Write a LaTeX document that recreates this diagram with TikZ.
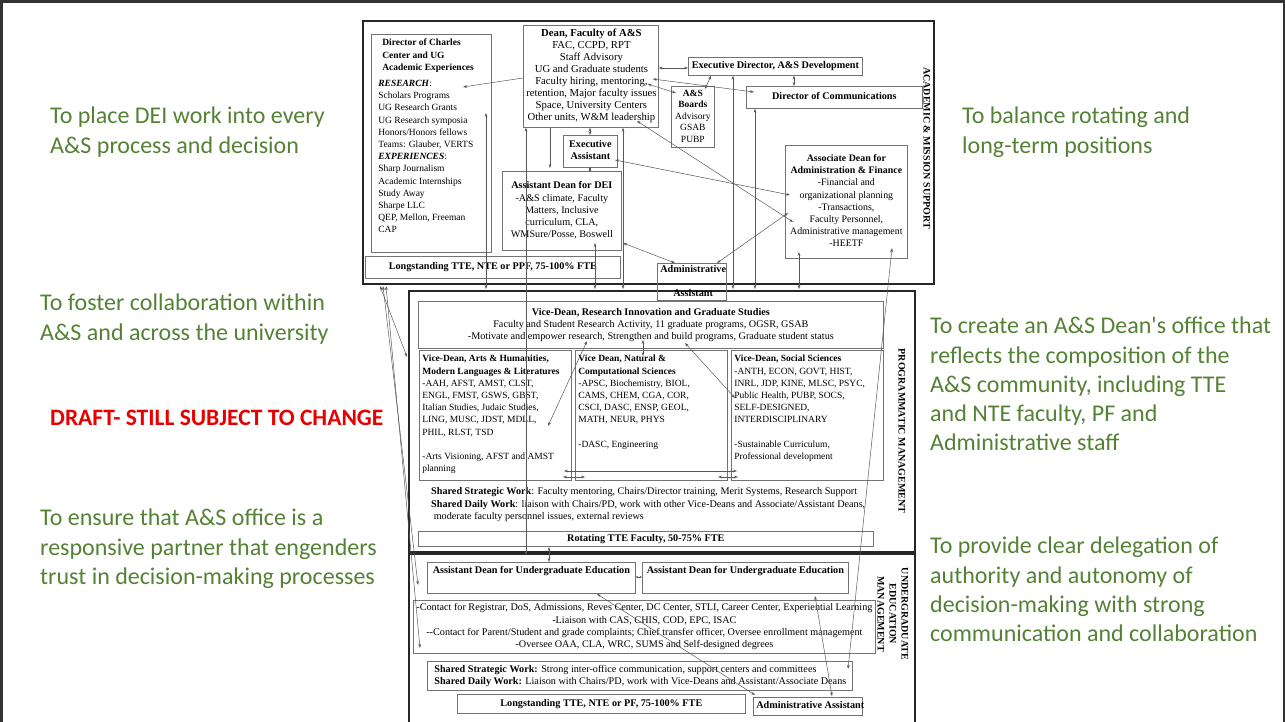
\documentclass[tikz,border=0pt]{standalone}
\usepackage{fontspec}
\setmainfont{Liberation Serif}
\newfontfamily\greenfont{Carlito}
\usetikzlibrary{arrows.meta,calc}
\definecolor{grn}{RGB}{84,130,53}
\definecolor{drft}{RGB}{230,0,0}
\newcommand{\cbox}[4]{\begin{minipage}[c][#2pt][#3]{#1pt}\centering\begin{tabular}{@{}c@{}}#4\end{tabular}\end{minipage}}
\newcommand{\lbox}[4]{\begin{minipage}[c][#2pt][#3]{#1pt}\raggedright\begin{tabular}{@{}l@{}}#4\end{tabular}\end{minipage}}
\tikzset{
  box/.style={draw=black!55, line width=0.7pt, inner sep=3pt, anchor=north west, font=\fontsize{10.2}{12.2}\selectfont},
  smallbox/.style={box, font=\fontsize{9.5}{12.2}\selectfont},
  frame/.style={draw=black!85, line width=2pt, inner sep=0pt, anchor=north west},
  plain/.style={inner sep=0pt, anchor=north west, font=\fontsize{10.2}{12.4}\selectfont},
  conn/.style={draw=black!65, line width=0.5pt},
  both/.style={conn, {Stealth[length=4pt,width=2.8pt]}-{Stealth[length=4pt,width=2.8pt]}},
  one/.style={conn, -{Stealth[length=4pt,width=2.8pt]}},
  tiny/.style={conn, {Stealth[length=2.5pt,width=2.4pt]}-{Stealth[length=2.5pt,width=2.4pt]}},
  goal/.style={text=grn, font=\greenfont\fontsize{24}{29.2}\selectfont, anchor=north west, align=left, inner sep=0pt},
  side/.style={font=\bfseries\fontsize{10}{12}\selectfont, rotate=-90, align=center, inner sep=0pt},
}
\begin{document}
\begin{tikzpicture}[x=1pt,y=-1pt]
\useasboundingbox (0,0) rectangle (1285,721);
\draw[line width=3pt, black!80] (1,725) -- (1,1) -- (1284,1) -- (1284,725);

% goals
\node[goal] (g1) at (50,107) {To place DEI work into every\\A\&S process and decision};
\node[goal] (g2) at (40,294) {To foster collaboration within\\A\&S and across the university};
\node[goal, text=drft, font=\greenfont\bfseries\fontsize{23.5}{26}\selectfont] (draft) at (50,410) {DRAFT- STILL SUBJECT TO CHANGE};
\node[goal] (g3) at (40,509) {To ensure that A\&S office is a\\responsive partner that engenders\\trust in decision-making processes};
\node[goal] (r1) at (962,107) {To balance rotating and\\long-term positions};
\node[goal] (r2) at (930,317) {To create an A\&S Dean's office that\\reflects the composition of the\\A\&S community, including TTE\\and NTE faculty, PF and\\Administrative staff};
\node[goal] (r3) at (930,537) {To provide clear delegation of\\authority and autonomy of\\decision-making with strong\\communication and collaboration};

% frames
\node[frame, minimum width=571pt, minimum height=263pt] (acad) at (362,20) {};
\node[frame, minimum width=506pt, minimum height=261pt] (prog) at (408,290) {};
\node[frame, minimum width=506pt, minimum height=175pt] (ug) at (408,553) {};
\node[side] (acadlab) at (927,148) {ACADEMIC \& MISSION SUPPORT};
\node[side] (proglab) at (902,431) {PROGRAMMATIC MANAGEMENT};
\node[side] (uglab) at (893,614) {UNDERGRADUATE\\EDUCATION\\MANAGEMENT};

% academic & mission support
\node[smallbox, inner xsep=7pt] (charles) at (371,34) {\lbox{106}{212}{t}{%
\hspace*{4pt}\textbf{Director of Charles}\\
\hspace*{4pt}\textbf{Center and UG}\\
\hspace*{4pt}\textbf{Academic Experiences}\\[4pt]
\textbf{\textit{RESEARCH}}:\\
Scholars Programs\\ UG Research Grants\\ UG Research symposia\\ Honors/Honors fellows\\ Teams: Glauber, VERTS\\
\textbf{\textit{EXPERIENCES}}:\\
Sharp Journalism\\ Academic Internships\\ Study Away\\ Sharpe LLC\\ QEP, Mellon, Freeman\\ CAP}};
\node[box, font=\fontsize{10.7}{12}\selectfont] (dean) at (523,25) {\cbox{129}{96}{c}{\textbf{Dean, Faculty of A\&S}\\ FAC, CCPD, RPT\\ Staff Advisory\\ UG and Graduate students\\ Faculty hiring, mentoring,\\ retention, Major faculty issues\\ Space, University Centers\\ Other units, W\&M leadership}};
\node[box] (execdir) at (688,57) {\cbox{168}{12}{c}{\textbf{Executive Director, A\&S Development}}};
\node[box] (dircomm) at (746,86) {\cbox{170}{16}{c}{\textbf{Director of Communications}}};
\node[smallbox] (boards) at (671,86) {\def\arraystretch{0.94}\cbox{37}{55}{c}{\textbf{A\&S}\\ \textbf{Boards}\\ Advisory\\ GSAB\\ PUBP}};
\node[box] (execasst) at (563,135) {\cbox{48}{26}{c}{\textbf{Executive}\\ \textbf{Assistant}}};
\node[box] (dei) at (502,171) {\cbox{113}{73}{c}{\textbf{Assistant Dean for DEI}\\ -A\&S climate, Faculty\\ Matters, Inclusive\\ curriculum, CLA,\\ WMSure/Posse, Boswell}};
\node[box] (longst1) at (365,256) {\cbox{249}{16}{c}{\textbf{Longstanding TTE, NTE or PPF, 75-100\% FTE}}};
\node[box] (adminasst) at (657,263) {\cbox{63}{31}{c}{\textbf{Administrative}\\[12pt] \textbf{Assistant}}};
\node[box, font=\fontsize{9.9}{12.2}\selectfont] (assoc) at (785,145) {\cbox{116}{107}{c}{\textbf{Associate Dean for}\\ \textbf{Administration \& Finance}\\ -Financial and\\ organizational planning\\ -Transactions,\\ Faculty Personnel,\\ Administrative management\\ -HEETF}};

% programmatic management
\node[box] (vdres) at (418,301) {\cbox{459}{41}{c}{\textbf{Vice-Dean, Research Innovation and Graduate Studies}\\ Faculty and Student Research Activity, 11 graduate programs, OGSR, GSAB\\ -Motivate and empower research, Strengthen and build programs, Graduate student status}};
\node[smallbox] (arts) at (419,350) {\lbox{146}{124}{t}{\textbf{Vice-Dean, Arts \& Humanities,}\\ \textbf{Modern Languages \& Literatures}\\ -AAH, AFST, AMST, CLST,\\ ENGL, FMST, GSWS, GBST,\\ Italian Studies, Judaic Studies,\\ LING, MUSC, JDST, MDLL,\\ PHIL, RLST, TSD\\[12pt] -Arts Visioning, AFST and AMST\\ planning}};
\node[smallbox] (natural) at (575,350) {\lbox{146}{124}{t}{\textbf{Vice Dean, Natural \&}\\ \textbf{Computational Sciences}\\ -APSC, Biochemistry, BIOL,\\ CAMS, CHEM, CGA, COR,\\ CSCI, DASC, ENSP, GEOL,\\ MATH, NEUR, PHYS\\[12pt] -DASC, Engineering}};
\node[smallbox] (social) at (731,350) {\lbox{146}{124}{t}{\textbf{Vice-Dean, Social Sciences}\\ -ANTH, ECON, GOVT, HIST,\\ INRL, JDP, KINE, MLSC, PSYC,\\ Public Health, PUBP, SOCS,\\ SELF-DESIGNED,\\ INTERDISCIPLINARY\\[12pt] -Sustainable Curriculum,\\ Professional development}};
\node[plain] (progshared) at (431,486) {\begin{tabular}{@{}l@{}}\textbf{Shared Strategic Work}: Faculty mentoring, Chairs/Director training, Merit Systems, Research Support\\ \textbf{Shared Daily Work}: liaison with Chairs/PD, work with other Vice-Deans and Associate/Assistant Deans,\\ \ moderate faculty personnel issues, external reviews\end{tabular}};
\node[box] (rotating) at (418,531) {\cbox{449}{9}{c}{\textbf{Rotating TTE Faculty, 50-75\% FTE}}};

% undergraduate education management
\node[box] (ug1) at (427,562) {\cbox{202}{25}{t}{\textbf{Assistant Dean for Undergraduate Education}}};
\node[box] (ug2) at (642,562) {\cbox{200}{25}{t}{\textbf{Assistant Dean for Undergraduate Education}}};
\node[box, font=\fontsize{10.2}{12.4}\selectfont] (contact) at (413,600) {\cbox{456}{47}{c}{-Contact for Registrar, DoS, Admissions, Reves Center, DC Center, STLI, Career Center, Experiential Learning\\ -Liaison with CAS, CHIS, COD, EPC, ISAC\\ -{}-Contact for Parent/Student and grade complaints; Chief transfer officer, Oversee enrollment management\\ -Oversee OAA, CLA, WRC, SUMS and Self-designed degrees}};
\node[box, inner xsep=7pt] (ugshared) at (427,661) {\lbox{411}{23}{c}{\textbf{Shared Strategic Work:} Strong inter-office communication, support centers and committees\\ \textbf{Shared Daily Work:} Liaison with Chairs/PD, work with Vice-Deans and Assistant/Associate Deans}};
\node[box] (longst2) at (457,694) {\cbox{282}{13}{c}{\textbf{Longstanding TTE, NTE or PF, 75-100\% FTE}}};
\node[box] (adminug) at (753,697) {\cbox{103}{12}{c}{\textbf{Administrative Assistant}}};

% connectors
\draw[one] ($(dean.north west)+(0,53)$) -- ($(charles.north west)+(92,53)$);
\draw[both] ($(dean.north east)+(0,43)$) -- ($(execdir.north west)+(0,11)$);
\draw[both] ($(dean.north east)+(-6,54)$) -- ($(dircomm.north west)+(8,6)$);
\draw[both] ($(dean.north east)+(-11,59)$) -- ($(boards.north west)+(5,7)$);
\draw[both] ($(execdir.south west)+(23,0)$) -- ($(boards.north west)+(34,3)$);
\draw[both] ($(execdir.south west)+(106,0)$) -- ($(dircomm.north west)+(48,0)$);
\draw[both] ($(execdir.south west)+(45,0)$) -- ($(prog.north west)+(325,-1)$);
\draw[both] ($(dircomm.south west)+(9,0)$) -- ($(prog.north west)+(347,-1)$);
\draw[both] ($(dean.south west)+(67,0)$) -- ($(execasst.north west)+(27,0)$);
\draw[both] ($(execasst.south west)+(27,0)$) -- ($(dei.north west)+(88,0)$);
\draw[one] ($(dean.south west)+(27,0)$) -- ($(dei.north west)+(48,-3)$);
\draw[both] ($(dean.south west)+(3,0)$) -- ($(ug.north west)+(118,2)$);
\draw[both] ($(charles.north west)+(115,79)$) -- ($(prog.north west)+(78,-1)$);
\draw[both] ($(dean.south west)+(100,0)$) -- ($(prog.north west)+(215,-1)$);
\draw[both] ($(dei.north west)+(93,72)$) -- ($(prog.north west)+(187,-1)$);
\draw[both] ($(dei.north west)+(121,72)$) -- ($(adminasst.north west)+(18,0)$);
\draw[both] ($(adminasst.north west)+(60,0)$) -- ($(assoc.north west)+(3,68)$);
\draw[both] ($(execasst.north west)+(52,25)$) -- ($(assoc.north west)+(5,50)$);
\draw[both] ($(dean.north west)+(114,96)$) -- ($(assoc.north west)+(8,77)$);
\draw[both] ($(assoc.north west)+(14,107)$) -- ($(prog.north west)+(391,-1)$);
\draw[both] ($(assoc.north west)+(107,103)$) -- ($(ugshared.north west)+(421,8)$);
\draw[both] ($(vdres.north west)+(169,40)$) -- ($(arts.north west)+(129,76)$);
\draw[both] ($(vdres.north west)+(225,39)$) -- ($(natural.north west)+(68,6)$);
\draw[both] ($(vdres.north west)+(267,42)$) -- ($(social.north west)+(4,48)$);
\draw[both] ($(arts.north west)+(145,121)$) -- ($(social.north west)+(6,121)$);
\draw[both] ($(arts.north west)+(144,127)$) -- ($(natural.north west)+(10,127)$);
\draw[both] ($(natural.north west)+(143,127)$) -- ($(social.north west)+(7,127)$);
\draw[both] ($(rotating.north west)+(131,16)$) -- ($(ug1.north west)+(122,0)$);
\draw[tiny] ($(ug1.north east)+(0,15)$) -- ($(ug2.north west)+(0,15)$);
\draw[both] ($(ug1.north west)+(170,32)$) -- ($(adminug.north west)+(2,-2)$);
\draw[both] ($(ug2.north west)+(173,34)$) -- ($(adminug.north west)+(79,-1)$);
\draw[both] ($(acad.south west)+(18,1)$) -- ($(prog.north west)+(-1,67)$);
\draw[both] ($(acad.south west)+(21,1)$) -- ($(ug.north west)+(10,32)$);
\draw[both] ($(acad.south west)+(24,1)$) -- ($(ug.north west)+(12,95)$);
\end{tikzpicture}
\end{document}
